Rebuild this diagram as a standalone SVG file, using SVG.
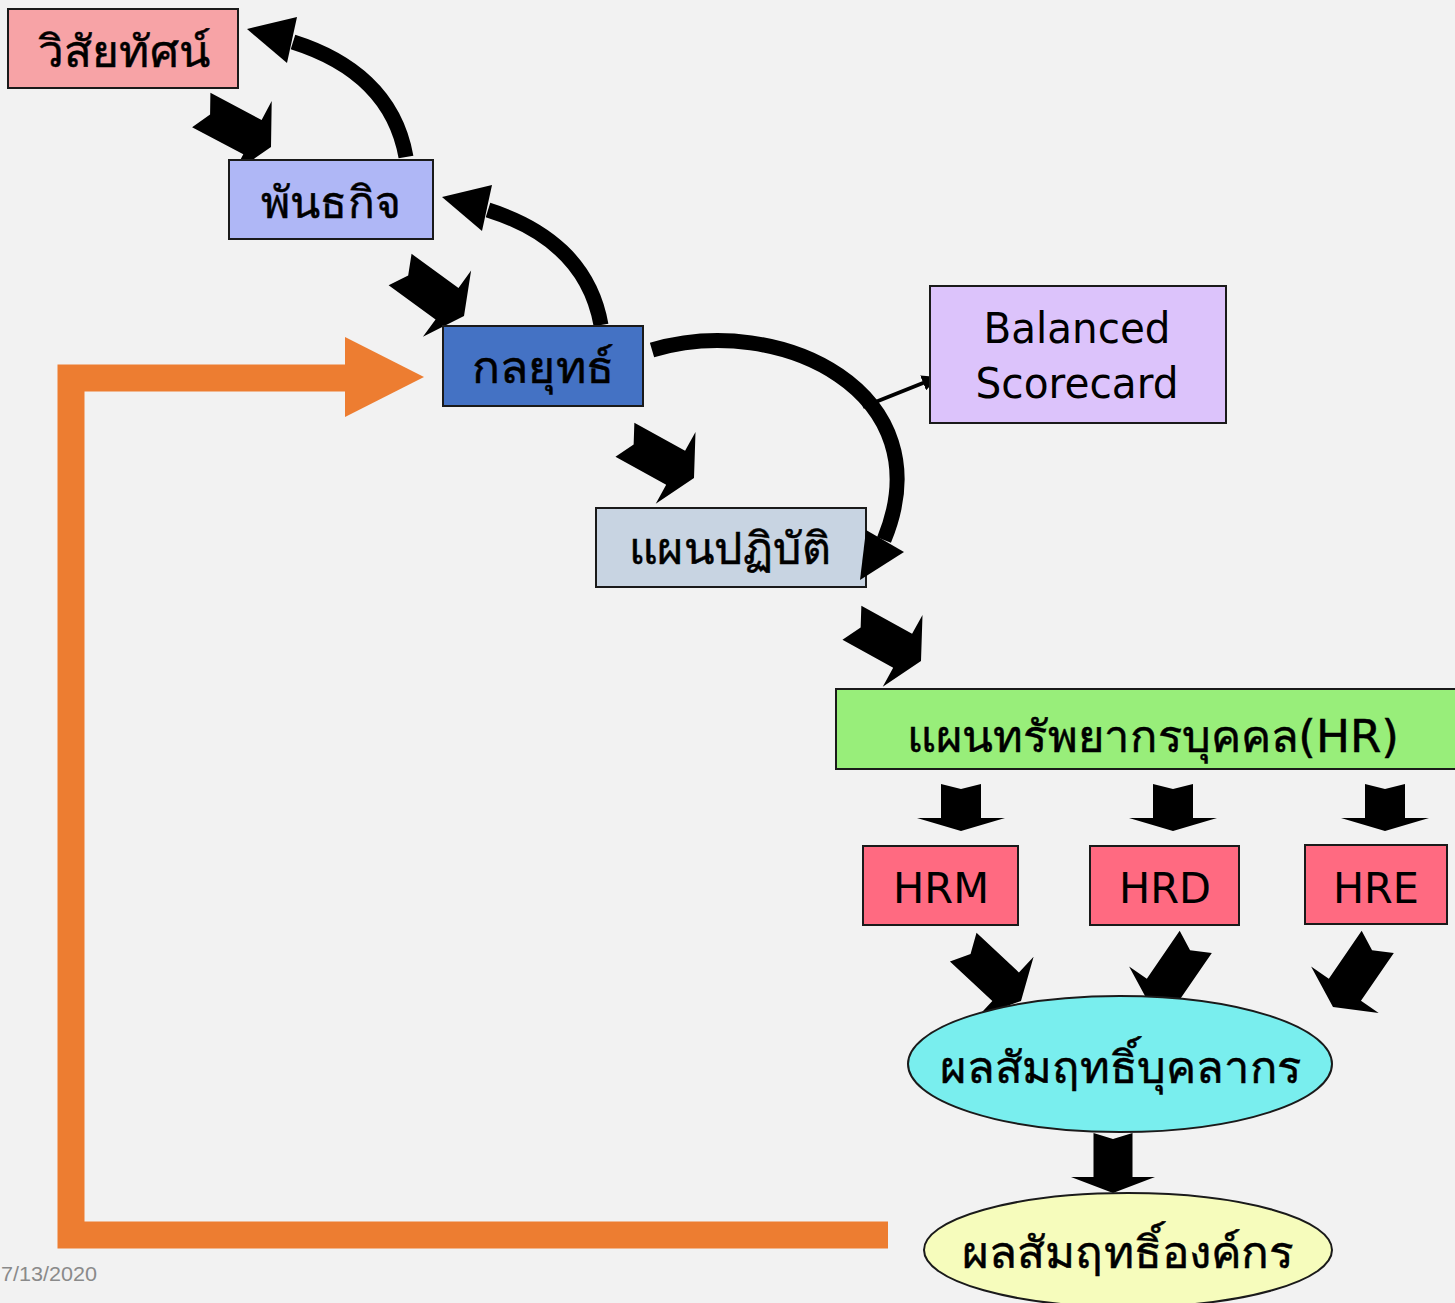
<svg xmlns="http://www.w3.org/2000/svg" xmlns:xlink="http://www.w3.org/1999/xlink" width="1455" height="1303" viewBox="0 0 1455 1303">
<style>
.box{stroke:#1a1a1a;stroke-width:2}
.th{font-family:'DejaVu Sans','Noto Sans',sans-serif;font-size:44px;fill:#000;stroke:#000;stroke-width:0.5;text-anchor:middle}
.en{font-family:'DejaVu Sans','Noto Sans',sans-serif;font-size:42px;fill:#000;text-anchor:middle}
.curve{fill:none;stroke:#000;stroke-width:15}
.blk{fill:#000}
</style>
<defs>
<path id="notch" d="M0,0 L-21,-41 L-21,-19.5 L-79,-19.5 L-69,0 L-79,19.5 L-21,19.5 L-21,41 Z"/>
<path id="down" d="M0,0 L-44,-13 L-20,-13 L-20,-47 L0,-42 L20,-47 L20,-13 L44,-13 Z"/>
<marker id="sm" markerUnits="userSpaceOnUse" markerWidth="18" markerHeight="16" refX="16" refY="8" orient="auto"><path d="M0,0 L16,8 L0,16 Z" fill="#000"/></marker>
</defs>
<rect width="1455" height="1303" fill="#f2f2f2"/>

<g id="connectors">
<path d="M888,1235 H71 V378 H350" fill="none" stroke="#ed7d31" stroke-width="27"/>
<path d="M345,337 L424,377 L345,417 Z" fill="#ed7d31"/>
<use href="#notch" class="blk" transform="translate(271,147) rotate(28)"/>
<use href="#notch" class="blk" transform="translate(464,316) rotate(36)"/>
<use href="#notch" class="blk" transform="translate(694,478) rotate(29)"/>
<use href="#notch" class="blk" transform="translate(921,661) rotate(29)"/>
<use href="#down" class="blk" transform="translate(961,831)"/>
<use href="#down" class="blk" transform="translate(1173,831)"/>
<use href="#down" class="blk" transform="translate(1385,831)"/>
<use href="#notch" class="blk" transform="translate(1021,1001) rotate(43)"/>
<use href="#notch" class="blk" transform="translate(1151,1007) rotate(124.5)"/>
<use href="#notch" class="blk" transform="translate(1333,1007) rotate(124.5)"/>
<path d="M1113,1193 L1071,1177 L1093.5,1177 L1093.5,1133 L1113,1139 L1132.5,1133 L1132.5,1177 L1155,1177 Z" class="blk"/>
<path class="curve" d="M406,157 C395,95 350,60 293,42"/>
<path class="blk" d="M247,29 L297,17 L287,63 Z"/>
<path class="curve" d="M601,325 C590,263 545,228 488,210"/>
<path class="blk" d="M442,197 L492,185 L482,231 Z"/>
<path class="curve" stroke-width="14" d="M652,350 C780,312 945,392 884,540"/>
<path d="M863,407 L938,377" stroke="#000" stroke-width="4" marker-end="url(#sm)"/>
</g>

<g id="n-vision"><rect class="box" x="8" y="9" width="230" height="79" fill="#f7a3a6"/><text class="th" x="124" y="67" textLength="172" lengthAdjust="spacingAndGlyphs">วิสัยทัศน์</text></g>
<g id="n-mission"><rect class="box" x="229" y="160" width="204" height="79" fill="#afb7f6"/><text class="th" x="331" y="218" textLength="140" lengthAdjust="spacingAndGlyphs">พันธกิจ</text></g>
<g id="n-strategy"><rect class="box" x="443" y="326" width="200" height="80" fill="#4472c4"/><text class="th" x="543" y="383" textLength="143" lengthAdjust="spacingAndGlyphs">กลยุทธ์</text></g>
<g id="n-action"><rect class="box" x="596" y="508" width="270" height="79" fill="#c8d4e2"/><text class="th" x="730" y="564" textLength="202" lengthAdjust="spacingAndGlyphs">แผนปฏิบัติ</text></g>
<path class="blk" d="M866,530 L904,552 L860,580 Z"/>
<g id="n-bsc"><rect class="box" x="930" y="286" width="296" height="137" fill="#dcc3fb"/><text class="en" x="1077" y="343" textLength="187" lengthAdjust="spacingAndGlyphs">Balanced</text><text class="en" x="1077" y="398" textLength="203" lengthAdjust="spacingAndGlyphs">Scorecard</text></g>
<g id="n-hrplan"><rect class="box" x="836" y="689" width="630" height="80" fill="#98ee7a"/><text class="th" x="1153" y="752" textLength="492" lengthAdjust="spacingAndGlyphs">แผนทรัพยากรบุคคล(HR)</text></g>
<g id="n-hrm"><rect class="box" x="863" y="846" width="155" height="79" fill="#ff6a81"/><text class="en" x="941" y="903" textLength="96" lengthAdjust="spacingAndGlyphs">HRM</text></g>
<g id="n-hrd"><rect class="box" x="1090" y="846" width="149" height="79" fill="#ff6a81"/><text class="en" x="1165" y="903" textLength="92" lengthAdjust="spacingAndGlyphs">HRD</text></g>
<g id="n-hre"><rect class="box" x="1305" y="845" width="142" height="79" fill="#ff6a81"/><text class="en" x="1376" y="903" textLength="86" lengthAdjust="spacingAndGlyphs">HRE</text></g>
<g id="n-staff"><ellipse class="box" cx="1120" cy="1064" rx="212" ry="68" fill="#79eeee"/><text class="th" x="1121" y="1083" textLength="362" lengthAdjust="spacingAndGlyphs">ผลสัมฤทธิ์บุคลากร</text></g>
<g id="n-org"><ellipse class="box" cx="1128" cy="1250" rx="204" ry="57" fill="#f6fcbc"/><text class="th" x="1128" y="1268" textLength="332" lengthAdjust="spacingAndGlyphs">ผลสัมฤทธิ์องค์กร</text></g>
<text x="1" y="1281" font-family="'Liberation Sans',sans-serif" font-size="21" fill="#8a8a8a" textLength="96" lengthAdjust="spacingAndGlyphs">7/13/2020</text>
</svg>
